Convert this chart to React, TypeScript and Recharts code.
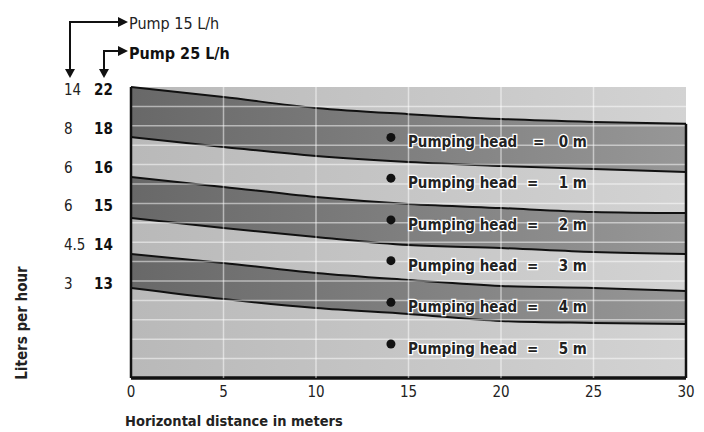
import React from "react";
import {
  ComposedChart,
  Area,
  Scatter,
  XAxis,
  YAxis,
  CartesianGrid,
  ReferenceLine,
} from "recharts";

// distance along the hose, m
const distances = [0, 5, 10, 15, 20, 25, 30];

// band edges (chart units, 0 = bottom, 15 = top)
const edgeA = [15, 14.48, 13.92, 13.6, 13.35, 13.2, 13.1];
const edgeB = [12.42, 11.91, 11.44, 11.13, 10.93, 10.77, 10.62];
const edgeC = [10.36, 9.85, 9.33, 8.97, 8.76, 8.56, 8.5];
const edgeD = [8.25, 7.73, 7.27, 6.86, 6.7, 6.49, 6.39];
const edgeE = [6.39, 5.93, 5.41, 5.05, 4.74, 4.64, 4.48];
const edgeF = [4.64, 4.07, 3.61, 3.3, 2.94, 2.84, 2.78];

// y tick positions and the two label columns
const yTicks = [15, 13, 11, 9, 7, 5];
const pump15Labels = ["14", "8", "6", "6", "4.5", "3"];
const pump25Labels = ["22", "18", "16", "15", "14", "13"];

const xTicks = [0, 5, 10, 15, 20, 25, 30];
const gridRows = [1, 2, 3, 4, 5, 6, 7, 8, 9, 10, 11, 12, 13, 14];

// pumping head markers
const headX = 14.05;
const headY = [12.4, 10.3, 8.15, 6.05, 3.9, 1.75];
const headValues = ["0 m", "1 m", "2 m", "3 m", "4 m", "5 m"];

const rows = distances.map((d, i) => ({
  x: d,
  a: edgeA[i],
  b: edgeB[i],
  c: edgeC[i],
  d: edgeD[i],
  e: edgeE[i],
  f: edgeF[i],
}));

const headPoints = headY.map((y, i) => ({ x: headX, y, label: headValues[i], first: i === 0 }));

const FONT = '"Liberation Sans Narrow", "DejaVu Sans Condensed", "Roboto Condensed", sans-serif';

const YTick = (props: any) => {
  const { y, payload } = props;
  const idx = yTicks.indexOf(payload.value);
  if (idx < 0) return null;
  return (
    <g>
      <text x={56} y={y + 3} dominantBaseline="central" fontFamily={FONT} fontSize={15} fill="#222">
        {pump15Labels[idx]}
      </text>
      <text x={86} y={y + 3} dominantBaseline="central" fontFamily={FONT} fontSize={15} fontWeight="bold" fill="#111">
        {pump25Labels[idx]}
      </text>
    </g>
  );
};

const HeadMarker = (props: any) => {
  const { cx, cy, payload } = props;
  const halo = { stroke: "#fff", strokeWidth: 2.5, paintOrder: "stroke" as const };
  const common = {
    y: cy + 5,
    dominantBaseline: "central" as const,
    fontFamily: FONT,
    fontSize: 15,
    fontWeight: "bold",
    fill: "#222",
    style: halo,
  };
  return (
    <g>
      <circle cx={cx} cy={cy} r={4.5} fill="#111" />
      <text x={cx + 17} {...common}>
        Pumping head
      </text>
      <text x={cx + (payload.first ? 142 : 136)} {...common}>
        =
      </text>
      <text x={cx + 196} textAnchor="end" {...common}>
        {payload.label}
      </text>
    </g>
  );
};

export default function App() {
  const bands = [
    { key: "a", fill: "url(#darkBand)" },
    { key: "b", fill: "url(#lightBand)" },
    { key: "c", fill: "url(#darkBand)" },
    { key: "d", fill: "url(#lightBand)" },
    { key: "e", fill: "url(#darkBand)" },
    { key: "f", fill: "url(#lightBand)" },
  ];

  return (
    <div style={{ position: "relative", width: 696, height: 424 }}>
      <ComposedChart
        width={696}
        height={424}
        data={rows}
        margin={{ top: 79, right: 18, bottom: 24, left: 63 }}
      >
        <defs>
          <linearGradient id="darkBand" x1="0" y1="0" x2="1" y2="0">
            <stop offset="0%" stopColor="#686868" />
            <stop offset="100%" stopColor="#979797" />
          </linearGradient>
          <linearGradient id="lightBand" x1="0" y1="0" x2="1" y2="0">
            <stop offset="0%" stopColor="#b9b9b9" />
            <stop offset="100%" stopColor="#d3d3d3" />
          </linearGradient>
        </defs>
        <CartesianGrid horizontal={false} vertical={false} fill="url(#lightBand)" stroke="none" />
        <XAxis
          dataKey="x"
          type="number"
          domain={[0, 30]}
          ticks={xTicks}
          axisLine={false}
          tickLine={false}
          height={30}
          tick={{ fontFamily: FONT, fontSize: 15, fill: "#222" }}
        />
        <YAxis
          type="number"
          domain={[0, 15]}
          ticks={yTicks}
          axisLine={false}
          tickLine={false}
          width={60}
          tick={<YTick />}
        />
        {bands.map((b) => (
          <Area
            key={b.key}
            dataKey={b.key}
            type="monotone"
            fill={b.fill}
            fillOpacity={1}
            stroke="#111"
            strokeWidth={2}
            isAnimationActive={false}
            dot={false}
            activeDot={false}
          />
        ))}
        <CartesianGrid
          zIndex={450}
          horizontal={false}
          verticalValues={[5, 10, 15, 20, 25]}
          stroke="#ffffff"
          strokeOpacity={0.5}
          strokeWidth={1.5}
          fill="none"
        />
        {gridRows.map((v) => (
          <ReferenceLine key={v} y={v} stroke="#ffffff" strokeOpacity={0.5} strokeWidth={1.5} />
        ))}
        <ReferenceLine x={0} stroke="#111" strokeWidth={2.5} />
        <ReferenceLine y={0} stroke="#111" strokeWidth={3.5} />
        <ReferenceLine
          segment={[
            { x: 30, y: 0 },
            { x: 30, y: edgeA[edgeA.length - 1] },
          ]}
          stroke="#111"
          strokeWidth={2.5}
        />
        <Scatter data={headPoints} dataKey="y" shape={<HeadMarker />} isAnimationActive={false} />
      </ComposedChart>
      <svg
        width={696}
        height={424}
        style={{ position: "absolute", left: 0, top: 0, pointerEvents: "none" }}
      >
        <g stroke="#111" strokeWidth={2} fill="none">
          <polyline points="62,64 62,14 113,14" />
          <polyline points="96,64 96,43 113,43" />
        </g>
        <g fill="#111">
          <polygon points="57,61 67,61 62,70" />
          <polygon points="91,61 101,61 96,70" />
          <polygon points="110,9 110,19 120,14" />
          <polygon points="110,38 110,48 120,43" />
        </g>
        <text x={121} y={15} dominantBaseline="central" fontFamily={FONT} fontSize={16} fill="#222">
          Pump 15 L/h
        </text>
        <text x={121} y={45} dominantBaseline="central" fontFamily={FONT} fontSize={16} fontWeight="bold" fill="#111">
          Pump 25 L/h
        </text>
        <text
          x={14}
          y={315}
          transform="rotate(-90 14 315)"
          textAnchor="middle"
          dominantBaseline="central"
          fontFamily={FONT}
          fontSize={15}
          fontWeight="bold"
          fill="#222"
        >
          Liters per hour
        </text>
        <text x={117} y={413} dominantBaseline="central" fontFamily={FONT} fontSize={14.5} fontWeight="bold" fill="#222">
          Horizontal distance in meters
        </text>
      </svg>
    </div>
  );
}
